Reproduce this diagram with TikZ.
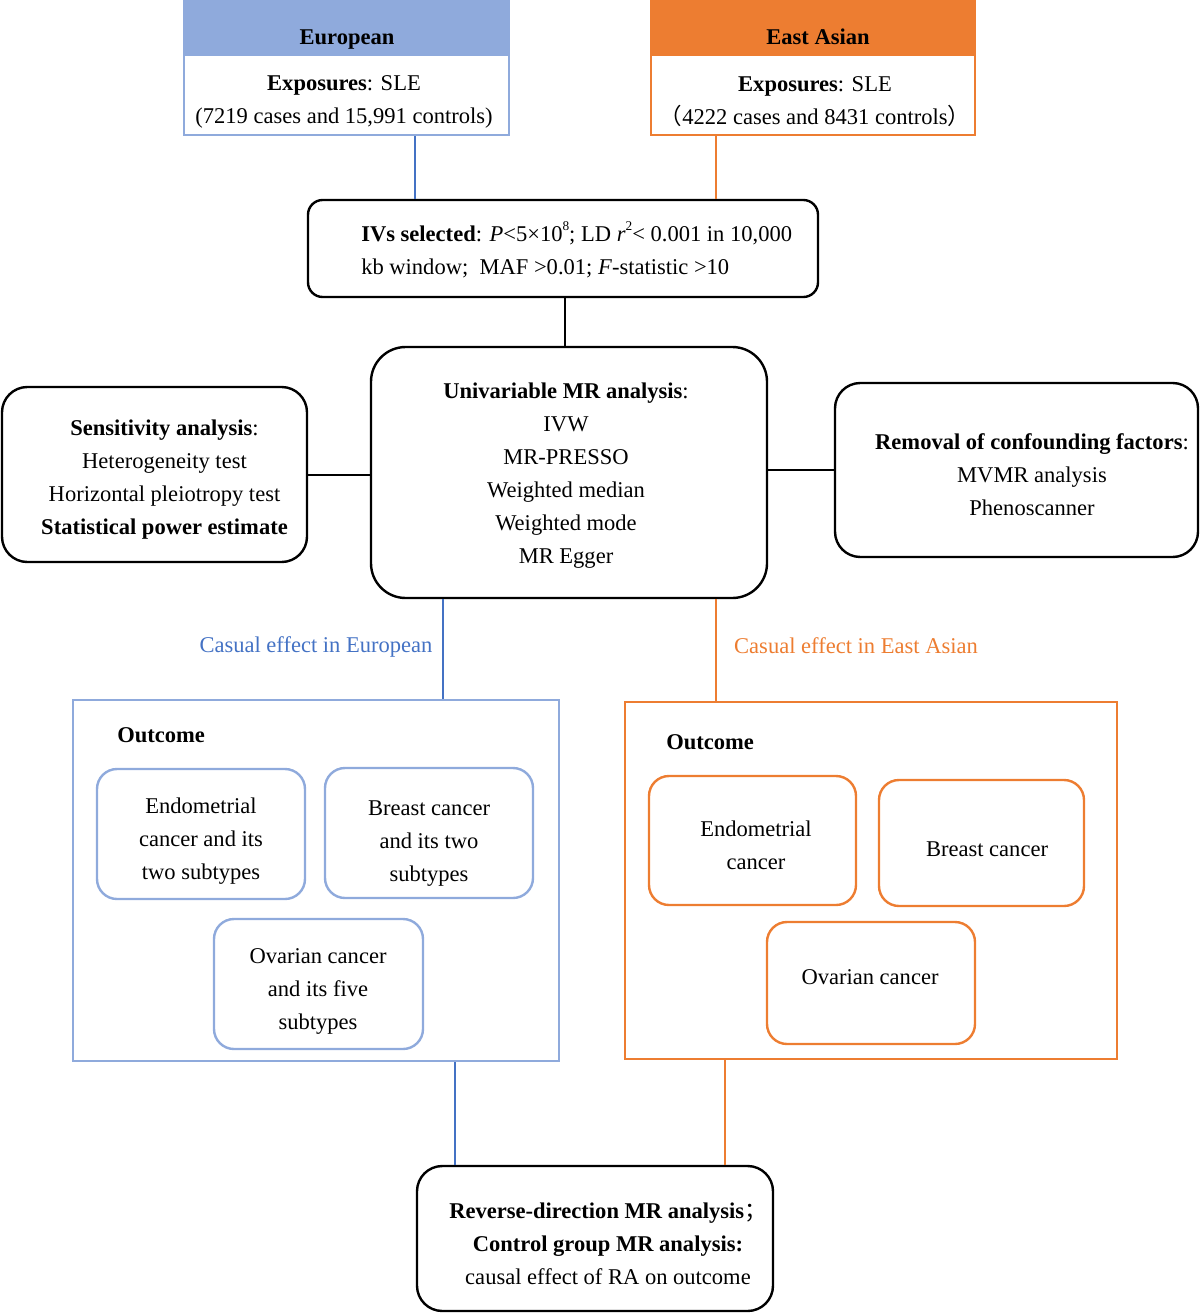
\documentclass[tikz,border=0pt]{standalone}
\usepackage{fontspec}
\setmainfont{Liberation Serif}
\newfontfamily\cjk{Noto Sans CJK SC}
\usetikzlibrary{fit,calc}
\definecolor{euBlue}{HTML}{8FAADC}
\definecolor{euLine}{HTML}{4472C4}
\definecolor{eaOrange}{HTML}{ED7D31}
\newcommand\fsz{\fontsize{16.9pt}{24.75pt}\selectfont}
\newcommand\sps[1]{\raisebox{0.5em}{\fontsize{10pt}{10pt}\selectfont #1}}
\begin{document}
\begin{tikzpicture}[x=0.75pt,y=-0.75pt,
  every node/.style={font=\fsz, align=center, inner sep=0pt},
  euhdr/.style={fill=euBlue, draw=euBlue, line width=1.5pt},
  eahdr/.style={fill=eaOrange, draw=eaOrange, line width=1.5pt},
  eubody/.style={draw=euBlue, line width=1.5pt},
  eabody/.style={draw=eaOrange, line width=1.5pt},
  blkbox/.style={draw=black, line width=1.8pt},
  euinner/.style={draw=euBlue, line width=1.8pt, rounded corners=15pt},
  eainner/.style={draw=eaOrange, line width=1.8pt, rounded corners=15pt},
  txt/.style={anchor=center},
  onel/.style={anchor=base},
  blk/.style={draw=black, line width=1.5pt},
  bl/.style={draw=euLine, line width=1.5pt},
  orl/.style={draw=eaOrange, line width=1.5pt}]
\useasboundingbox (0,0) rectangle (1200,1313);

% ---------- top boxes ----------
\node[euhdr, fit={(184,0) (509,55)}] (euh) {};
\node[onel] (euht) at (347,45) {\textbf{European}};
\node[eubody, fit={(184,55) (509,135)}] (eub) {};
\node[txt] (eubt) at (344,101.5) {\textbf{Exposures}: SLE\\(7219 cases and 15,991 controls)};
\node[eahdr, fit={(651,0) (975,55)}] (eah) {};
\node[onel] (eaht) at (818,45) {\textbf{East Asian}};
\node[eabody, fit={(651,55) (975,135)}] (eab) {};
\node[txt] (eabt) at (815,101.5) {\textbf{Exposures}: SLE\\{\cjk （}4222 cases and 8431 controls{\cjk ）}};

% ---------- IVs ----------
\node[blkbox, rounded corners=11pt, fit={(308,200) (818,297)}] (ivs) {};
\node[anchor=west, align=left] (ivst) at (361,250)
  {\textbf{IVs selected}: \textit{P}<5×10\sps{8}; LD \textit{r}\sps{2}< 0.001 in 10,000\\
   kb window;\ \ MAF >0.01; \textit{F}-statistic >10};

% ---------- central row ----------
\node[blkbox, rounded corners=26pt, fit={(371,347) (767,598)}] (uni) {};
\node[txt] (unit) at (566,476)
  {\textbf{Univariable MR analysis}:\\IVW\\MR-PRESSO\\Weighted median\\Weighted mode\\MR Egger};
\node[blkbox, rounded corners=19pt, fit={(2,387) (307,562)}] (sens) {};
\node[txt] (senst) at (164.5,479.5)
  {\textbf{Sensitivity analysis}:\\Heterogeneity test\\Horizontal pleiotropy test\\\textbf{Statistical power estimate}};
\node[blkbox, rounded corners=19pt, fit={(835,383) (1198,557)}] (rem) {};
\node[txt] (remt) at (1032,474.5)
  {\textbf{Removal of confounding factors}:\\MVMR analysis\\Phenoscanner};

% ---------- labels ----------
\node[onel, text=euLine] (eulab) at (316,652.5) {Casual effect in European};
\node[onel, text=eaOrange] (ealab) at (856,653.5) {Casual effect in East Asian};

% ---------- European outcome ----------
\node[eubody, fit={(73,700) (559,1061)}] (euo) {};
\node[anchor=base west] (euot) at (117,742.5) {\textbf{Outcome}};
\node[euinner, fit={(97,769) (305,899)}] (eu1) {};
\node[txt] (eu1t) at (201,841.5) {Endometrial\\cancer and its\\two subtypes};
\node[euinner, fit={(325,768) (533,898)}] (eu2) {};
\node[txt] (eu2t) at (429,843.5) {Breast cancer\\and its two\\subtypes};
\node[euinner, fit={(214,919) (423,1049)}] (eu3) {};
\node[txt] (eu3t) at (318,991.5) {Ovarian cancer\\and its five\\subtypes};

% ---------- East Asian outcome ----------
\node[eabody, fit={(625,702) (1117,1059)}] (eao) {};
\node[anchor=base west] (eaot) at (666,749.5) {\textbf{Outcome}};
\node[eainner, fit={(649,776) (856,905)}] (ea1) {};
\node[txt] (ea1t) at (756,845.5) {Endometrial\\cancer};
\node[eainner, fit={(879,780) (1084,906)}] (ea2) {};
\node[onel] (ea2t) at (987,856.5) {Breast cancer};
\node[eainner, fit={(767,922) (975,1044)}] (ea3) {};
\node[onel] (ea3t) at (870,984.5) {Ovarian cancer};

% ---------- bottom ----------
\node[blkbox, rounded corners=19pt, fit={(417,1166) (773,1311)}] (rev) {};
\node[txt] (revt) at (608,1244)
  {\textbf{Reverse-direction MR analysis}{\cjk ；}\\\textbf{Control group MR analysis:}\\causal effect of RA on outcome};

% ---------- connectors ----------
\coordinate (c1) at ($(eub.south)+(68.5,0)$);
\coordinate (c2) at ($(eab.south)+(-97,0)$);
\coordinate (c3) at ($(ivs.south)+(2,0)$);
\coordinate (c4) at ($(uni.south)+(-126,0)$);
\coordinate (c5) at ($(uni.south)+(147,0)$);
\coordinate (c6) at ($(rev.north)+(-140,0)$);
\coordinate (c7) at ($(rev.north)+(130,0)$);

\draw[bl] (c1) -- (c1 |- ivs.north);
\draw[orl] (c2) -- (c2 |- ivs.north);
\draw[blk] (c3) -- (c3 |- uni.north);
\draw[blk] (sens.east) -- (sens.east -| uni.west);
\draw[blk] (rem.west) -- (rem.west -| uni.east);
\draw[bl] (c4) -- (c4 |- euo.north);
\draw[orl] (c5) -- (c5 |- eao.north);
\draw[bl] (c6) -- (c6 |- euo.south);
\draw[orl] (c7) -- (c7 |- eao.south);
\end{tikzpicture}
\end{document}
